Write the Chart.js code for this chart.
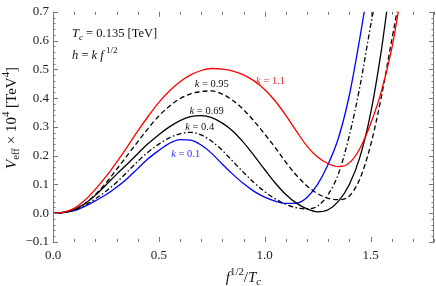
<!DOCTYPE html>
<html>
<head>
<meta charset="utf-8">
<script src="https://cdn.jsdelivr.net/npm/chart.js@4.4.1/dist/chart.umd.min.js"></script>
<style>
html,body{margin:0;padding:0;background:#fff;}
#wrap{width:436px;height:286px;position:relative;}
</style>
</head>
<body>
<div id="wrap"><canvas id="c" width="436" height="286"></canvas></div>
<script>
// ---- data ----
const xTickLabels = [0.0, 0.5, 1.0, 1.5];
const yTickLabels = [-0.1, 0.0, 0.1, 0.2, 0.3, 0.4, 0.5, 0.6, 0.7];

const k11X = [0,0.05,0.1,0.15,0.2,0.25,0.3,0.35,0.4,0.45,0.5,0.55,0.6,0.65,0.7,0.75,0.8,0.85,0.9,0.95,1.0,1.05,1.1,1.15,1.2,1.25,1.3,1.35,1.4,1.45,1.5,1.55,1.6,1.636];
const k11Y = [0,0.004,0.017,0.045,0.083,0.127,0.177,0.23,0.285,0.337,0.385,0.425,0.457,0.481,0.496,0.503,0.501,0.494,0.481,0.46,0.43,0.39,0.34,0.285,0.233,0.195,0.172,0.162,0.175,0.225,0.31,0.42,0.57,0.72];

const k095X = [0,0.05,0.1,0.15,0.2,0.25,0.3,0.35,0.4,0.45,0.5,0.55,0.6,0.65,0.7,0.75,0.8,0.85,0.9,0.95,1.0,1.05,1.1,1.15,1.2,1.25,1.3,1.35,1.4,1.45,1.5,1.55,1.6,1.63];
const k095Y = [0,0.003,0.012,0.033,0.065,0.105,0.152,0.2,0.248,0.295,0.338,0.372,0.398,0.415,0.423,0.425,0.414,0.392,0.36,0.32,0.275,0.228,0.177,0.132,0.095,0.068,0.052,0.047,0.06,0.12,0.235,0.4,0.6,0.72];

const k069X = [0,0.05,0.1,0.15,0.2,0.25,0.3,0.35,0.4,0.45,0.5,0.55,0.6,0.65,0.7,0.75,0.8,0.85,0.9,0.95,1.0,1.05,1.1,1.15,1.2,1.25,1.3,1.35,1.4,1.45,1.5,1.55,1.58];
const k069Y = [0,0.003,0.013,0.033,0.062,0.098,0.135,0.17,0.207,0.242,0.273,0.3,0.322,0.336,0.339,0.332,0.313,0.285,0.246,0.2,0.152,0.105,0.065,0.035,0.015,0.005,0.012,0.043,0.1,0.195,0.345,0.56,0.72];

const k04X = [0,0.05,0.1,0.15,0.2,0.25,0.3,0.35,0.4,0.45,0.5,0.55,0.6,0.65,0.7,0.75,0.8,0.85,0.9,0.95,1.0,1.05,1.1,1.15,1.2,1.25,1.3,1.35,1.4,1.45,1.5,1.518];
const k04Y = [0,0.003,0.011,0.028,0.05,0.076,0.107,0.143,0.18,0.213,0.24,0.262,0.276,0.281,0.272,0.25,0.218,0.18,0.142,0.106,0.075,0.05,0.031,0.019,0.015,0.025,0.065,0.14,0.27,0.44,0.65,0.72];

const k01X = [0,0.05,0.1,0.15,0.2,0.25,0.3,0.35,0.4,0.45,0.5,0.55,0.6,0.65,0.7,0.75,0.8,0.85,0.9,0.95,1.0,1.05,1.1,1.15,1.2,1.25,1.3,1.35,1.4,1.45,1.475];
const k01Y = [0,0.002,0.009,0.024,0.043,0.064,0.09,0.12,0.155,0.19,0.218,0.243,0.256,0.254,0.237,0.208,0.17,0.135,0.103,0.076,0.056,0.042,0.034,0.035,0.055,0.1,0.17,0.265,0.41,0.61,0.72];

const seriesNames = ['k = 1.1', 'k = 0.95', 'k = 0.69', 'k = 0.4', 'k = 0.1'];

function pts(xs, ys){ return xs.map((x,i)=>({x:x, y:ys[i]})); }

const SERIF = '"Liberation Serif", "DejaVu Serif", serif';

function richWidth(ctx, segs, size){
  let w = 0;
  for (const g of segs){
    const fs = (g.sub||g.sup) ? size*0.72 : size;
    ctx.font = (g.it?'italic ':'') + fs + 'px ' + SERIF;
    w += ctx.measureText(g.t).width;
  }
  return w;
}
function drawRich(ctx, segs, x, y, size, color, align){
  const w = richWidth(ctx, segs, size);
  let cx = align==='center' ? x - w/2 : (align==='right' ? x - w : x);
  ctx.fillStyle = color;
  ctx.textBaseline = 'middle';
  ctx.textAlign = 'left';
  for (const g of segs){
    const fs = (g.sub||g.sup) ? size*0.72 : size;
    ctx.font = (g.it?'italic ':'') + fs + 'px ' + SERIF;
    const dy = g.sub ? size*0.3 : (g.sup ? -size*0.38 : 0);
    ctx.fillText(g.t, cx, y + dy);
    cx += ctx.measureText(g.t).width;
  }
}

const annotations = [
  {x:0.09, y:0.623, size:12.5, color:'#111', align:'left',
   segs:[{t:'T',it:1},{t:'c',it:1,sub:1},{t:' = 0.135 [TeV]'}]},
  {x:0.09, y:0.548, size:12.5, color:'#111', align:'left',
   segs:[{t:'h',it:1},{t:' = '},{t:'k',it:1},{t:' '},{t:'f',it:1},{t:' 1/2',sup:1}]},
  {x:1.028, y:0.459, size:10.5, color:'rgb(230,40,40)', align:'center',
   segs:[{t:'k',it:1},{t:' = 1.1'}]},
  {x:0.75, y:0.449, size:10.5, color:'#111', align:'center',
   segs:[{t:'k',it:1},{t:' = 0.95'}]},
  {x:0.726, y:0.353, size:10.5, color:'#111', align:'center',
   segs:[{t:'k',it:1},{t:' = 0.69'}]},
  {x:0.693, y:0.298, size:10.5, color:'#111', align:'center',
   segs:[{t:'k',it:1},{t:' = 0.4'}]},
  {x:0.627, y:0.205, size:10.5, color:'rgb(50,50,230)', align:'center',
   segs:[{t:'k',it:1},{t:' = 0.1'}]}
];

const framePlugin = {
  id: 'framePlugin',
  afterDatasetsDraw(chart){
    const {ctx, chartArea:a, scales:{x, y}} = chart;
    ctx.save();
    ctx.strokeStyle = '#777';
    ctx.lineWidth = 1;
    const ln = (x1,y1,x2,y2)=>{ctx.beginPath();ctx.moveTo(x1,y1);ctx.lineTo(x2,y2);ctx.stroke();};
    ln(a.left+0.5, a.top, a.left+0.5, a.bottom);
    ln(a.right-0.5, a.top, a.right-0.5, a.bottom);
    for (let i=0;i<=18;i++){
      const px = Math.round(x.getPixelForValue(i/10))+0.5;
      const L = (i%5===0) ? 5 : 3;
      ln(px, a.bottom, px, a.bottom-L);
      ln(px, a.top, px, a.top+L);
    }
    for (let i=-5;i<=35;i++){
      const py = Math.round(y.getPixelForValue(i/50))+0.5;
      const L = (i%5===0) ? 5 : 2.5;
      ln(a.left, py, a.left+L, py);
      ln(a.right, py, a.right-L, py);
    }
    ctx.restore();
    ctx.save();
    for (const an of annotations){
      drawRich(ctx, an.segs, x.getPixelForValue(an.x), y.getPixelForValue(an.y), an.size, an.color, an.align);
    }
    const cxm = (a.left + a.right)/2;
    drawRich(ctx, [{t:'f',it:1},{t:'1/2',sup:1},{t:'/'},{t:'T',it:1},{t:'c',it:1,sub:1}], cxm, 278, 15, '#111', 'center');
    ctx.translate(12, 118);
    ctx.rotate(-Math.PI/2);
    drawRich(ctx, [{t:'V',it:1},{t:'eff',sub:1},{t:' \u00d7 10'},{t:'4',sup:1},{t:' [TeV'},{t:'4',sup:1},{t:']'}], 0, 0, 15, '#111', 'center');
    ctx.restore();
  }
};

const lineBase = {fill:false, pointRadius:0, borderWidth:1.3, cubicInterpolationMode:'monotone'};

new Chart(document.getElementById('c'), {
  type: 'line',
  data: {
    datasets: [
      Object.assign({label:seriesNames[0], data:pts(k11X,k11Y), borderColor:'rgb(255,0,0)'}, lineBase),
      Object.assign({label:seriesNames[1], data:pts(k095X,k095Y), borderColor:'#000', borderDash:[5,3]}, lineBase),
      Object.assign({label:seriesNames[2], data:pts(k069X,k069Y), borderColor:'#000'}, lineBase),
      Object.assign({label:seriesNames[3], data:pts(k04X,k04Y), borderColor:'#000', borderDash:[5,2.5,1.5,2.5]}, lineBase),
      Object.assign({label:seriesNames[4], data:pts(k01X,k01Y), borderColor:'rgb(0,0,255)'}, lineBase)
    ]
  },
  options: {
    responsive:false, animation:false, devicePixelRatio:1,
    layout:{padding:{top:8, right:2, left:0, bottom:0}},
    plugins:{legend:{display:false}, tooltip:{enabled:false}},
    scales:{
      x:{type:'linear', min:0, max:1.8,
        grid:{display:false, drawTicks:false}, border:{display:false},
        afterBuildTicks:(s)=>{ s.ticks = xTickLabels.map(v=>({value:v})); },
        afterFit:(s)=>{ s.height = 44; },
        ticks:{padding:6, color:'#222', font:{family:SERIF, size:13}, maxRotation:0,
          callback:(v)=>v.toFixed(1)}
      },
      y:{type:'linear', min:-0.1, max:0.7,
        grid:{display:false, drawTicks:false}, border:{display:false},
        afterBuildTicks:(s)=>{ s.ticks = yTickLabels.map(v=>({value:v})); },
        afterFit:(s)=>{ s.width = 53; },
        ticks:{padding:4, color:'#222', font:{family:SERIF, size:13},
          callback:(v)=> (v<0?'\u2212':'') + Math.abs(v).toFixed(1)}
      }
    }
  },
  plugins:[framePlugin]
});
</script>
</body>
</html>
